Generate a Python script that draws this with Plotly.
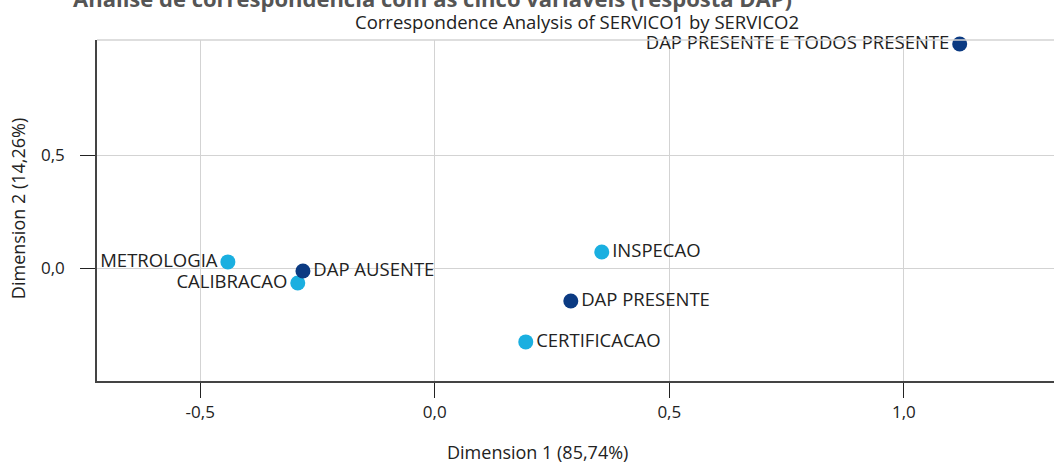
import plotly.graph_objects as go

# Row points (SERVICO1) and column points (SERVICO2)
row_labels = ["DAP PRESENTE E TODOS PRESENTE", "DAP AUSENTE", "DAP PRESENTE"]
row_x = [1.119, -0.281, 0.290]
row_y = [0.991, -0.013, -0.146]
row_pos = ["middle left", "middle right", "middle right"]

col_labels = ["METROLOGIA", "CALIBRACAO", "INSPECAO", "CERTIFICACAO"]
col_x = [-0.441, -0.292, 0.356, 0.194]
col_y = [0.027, -0.066, 0.071, -0.327]
col_pos = ["middle left", "middle left", "middle right", "middle right"]

x_ticks = [-0.5, 0.0, 0.5, 1.0]
x_tick_labels = ["-0,5", "0,0", "0,5", "1,0"]
y_ticks = [0.0, 0.5]
y_tick_labels = ["0,0", "0,5"]

FONT = "Open Sans"
fig = go.Figure()
fig.add_trace(go.Scatter(
    x=col_x, y=col_y, mode="markers+text", text=col_labels, textposition=col_pos,
    marker=dict(size=15, color="#1AAFE0"),
    textfont=dict(family=FONT, size=18.5, color="#222222"), showlegend=False, cliponaxis=False))
fig.add_trace(go.Scatter(
    x=row_x, y=row_y, mode="markers+text", text=row_labels, textposition=row_pos,
    marker=dict(size=15, color="#0B3A82"),
    textfont=dict(family=FONT, size=18.5, color="#222222"), showlegend=False, cliponaxis=False))

axis_common = dict(showgrid=True, gridcolor="#D3D3D3", gridwidth=1, zeroline=False,
                   showline=True, linecolor="#444444", linewidth=1.5, ticks="outside",
                   ticklen=15, tickcolor="#222222", tickfont=dict(size=17, color="#222222"),
                   automargin=False)

fig.update_layout(
    width=1054, height=463, margin=dict(l=97, r=0, t=40, b=82),
    paper_bgcolor="white", plot_bgcolor="white",
    font=dict(family=FONT, color="#222222"),
    xaxis=dict(range=[-0.72, 1.32], tickvals=x_ticks, ticktext=x_tick_labels, **axis_common),
    yaxis=dict(range=[-0.5, 1.009], tickvals=y_ticks, ticktext=y_tick_labels,
               ticklabelstandoff=12, **axis_common),
    shapes=[dict(type="line", xref="paper", yref="paper", x0=0, x1=1, y0=1, y1=1,
                 line=dict(color="#D3D3D3", width=1.5))],
    annotations=[
        dict(text="<b>Análise de correspondência com as cinco variáveis (resposta DAP)</b>",
             xref="paper", yref="paper", x=0.351, y=1, yshift=42, yanchor="middle",
             showarrow=False, font=dict(family=FONT, size=22, color="#555555")),
        dict(text="Correspondence Analysis of SERVICO1 by SERVICO2",
             xref="paper", yref="paper", x=0.502, y=1, yshift=19, yanchor="middle",
             showarrow=False, font=dict(family=FONT, size=18.5, color="#222222")),
        dict(text="Dimension 1 (85,74%)", xref="paper", yref="paper", x=0.46, y=0,
             yshift=-71, yanchor="middle", showarrow=False,
             font=dict(family=FONT, size=18, color="#222222")),
        dict(text="Dimension 2 (14,26%)", xref="paper", yref="paper", x=0, xshift=-79,
             y=0.504, textangle=-90, xanchor="center", yanchor="middle", showarrow=False,
             font=dict(family=FONT, size=18, color="#222222")),
    ],
)

fig.write_html("out.html", config={"displayModeBar": False},
               post_script="document.body.style.margin='0';document.body.style.overflow='hidden';")
